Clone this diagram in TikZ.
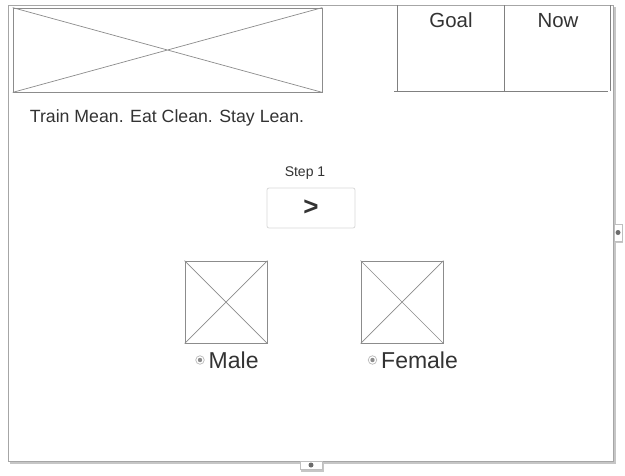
\documentclass[tikz,border=0pt]{standalone}
\usepackage{fontspec}
\setmainfont{Liberation Sans}
\usetikzlibrary{positioning}
\definecolor{inkgrey}{HTML}{333333}
\definecolor{edgegrey}{HTML}{8C8C8C}
\tikzset{
	imgbox/.style={draw=edgegrey, line width=0.8pt, inner sep=0pt},
	crossline/.style={edgegrey, line width=0.7pt},
	label/.style={text=inkgrey, inner sep=0pt, anchor=base},
	radio/.style={circle, draw=gray!55, fill=white, line width=0.7pt, minimum size=8.5pt, inner sep=0pt},
	handle/.style={draw=gray!50, fill=white, inner sep=0pt}
}
\begin{document}
\begin{tikzpicture}[x=1pt, y=-1pt]
	\useasboundingbox (0,0) rectangle (625,475);

	\fill[gray!45] (10,7) rectangle (616,464);
	\draw[gray!70, fill=white, line width=0.8pt] (8,5) rectangle (613,461);

	\node[imgbox, minimum width=309pt, minimum height=84pt] (banner) at (167.5,50) {};
	\node[label, font=\fontsize{17.7}{20}\selectfont] (motto) at (167,122.5) {Train Mean. Eat Clean. Stay Lean.};

	\draw[crossline, gray] (397,5) -- (397,91);
	\draw[crossline, gray] (504,5) -- (504,91);
	\draw[crossline, gray] (610,5) -- (610,91);
	\draw[crossline, gray] (394,91) -- (608,91);
	\node[label, font=\fontsize{20.4}{24}\selectfont] (goal) at (451,27.5) {Goal};
	\node[label, font=\fontsize{20.4}{24}\selectfont] (now) at (558,27.5) {Now};

	\node[label, font=\fontsize{14}{16}\selectfont] (steplbl) at (305,176.5) {Step 1};
	\node[draw=gray!30, rounded corners=2pt, minimum width=88pt, minimum height=40pt, inner sep=0pt, line width=0.8pt] (next) at (311,208) {};
	\node[text=inkgrey, font=\fontsize{26}{28}\bfseries\selectfont] at (next) {>};

	\node[imgbox, minimum width=82pt, minimum height=82pt] (male) at (226,302) {};
	\node[imgbox, minimum width=82pt, minimum height=82pt] (female) at (402,302) {};
	\foreach \b in {banner, male, female}
		\draw[crossline] (\b.north west) -- (\b.south east) (\b.north east) -- (\b.south west);

	\node[radio] (maleradio) at (200,360) {};
	\fill[gray!90] (maleradio) circle (2.2pt);
	\node[label, font=\fontsize{23}{26}\selectfont, anchor=base west] (malelbl) at (208.5,368.5) {Male};
	\node[radio] (femaleradio) at (372.5,360) {};
	\fill[gray!90] (femaleradio) circle (2.2pt);
	\node[label, font=\fontsize{23}{26}\selectfont, anchor=base west] (femalelbl) at (381,368.5) {Female};

	\fill[gray!45] (615,225) rectangle (623,243);
	\node[handle, minimum width=8pt, minimum height=17pt] (rgrip) at (618,232.5) {};
	\fill[gray!85!black] (rgrip) circle (2.5pt);
	\fill[gray!45] (301,462) rectangle (324,472);
	\node[handle, minimum width=22pt, minimum height=8pt] (bgrip) at (311,465) {};
	\fill[gray!85!black] (bgrip) circle (2.5pt);

\end{tikzpicture}
\end{document}
